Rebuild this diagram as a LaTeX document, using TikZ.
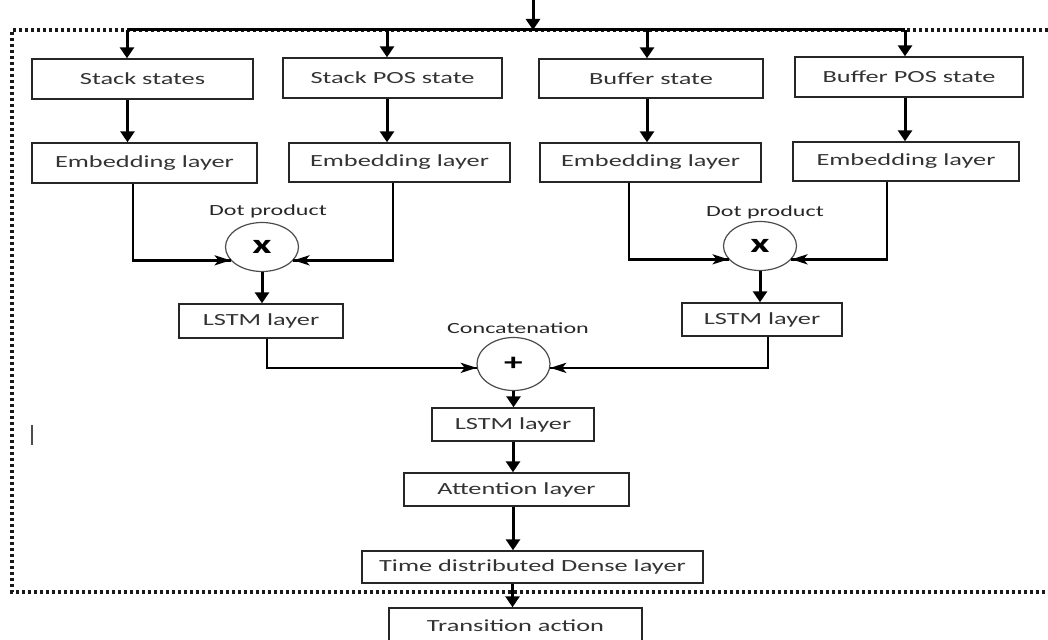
\documentclass[tikz,border=0pt]{standalone}
\usepackage{fontspec}
\setmainfont{Carlito}[FakeStretch=1.55]
\usetikzlibrary{arrows.meta,shapes.geometric}
\begin{document}
\begin{tikzpicture}[x=1pt,y=-1pt,
  box/.style={draw=black!85,line width=1.4pt,rectangle,inner sep=0pt,font=\fontsize{17}{20}\selectfont,text=black!80},
  op/.style={draw=black!70,line width=1.2pt,ellipse,inner sep=0pt,minimum width=73pt,minimum height=49pt,font=\fontsize{27}{28}\selectfont\bfseries},
  lbl/.style={font=\fontsize{15.5}{18}\selectfont,text=black!85,inner sep=0pt},
  varr/.style={line width=3pt,-{Triangle[width=14pt,length=11pt]}},
  harr/.style={line width=2.6pt,-{Stealth[width=10pt,length=16pt,inset=4pt]}},
  frame/.style={line width=3.2pt,dash pattern=on 3pt off 3pt,black!90}]
\useasboundingbox (0,0) rectangle (1048,639);
% dotted frame
\draw[frame] (1048,30) -- (12,30) -- (12,592) -- (1048,592);
% cursor mark
\draw[black!70,line width=1.8pt] (32,425) -- (32,445);
% nodes
\node[box,minimum width=221pt,minimum height=40pt] (s1) at (142.5,79) {Stack states};
\node[box,minimum width=219pt,minimum height=40pt] (s2) at (392.5,78) {Stack POS state};
\node[box,minimum width=224pt,minimum height=39pt] (s3) at (651,78.5) {Buffer state};
\node[box,minimum width=228pt,minimum height=40pt] (s4) at (909,77) {Buffer POS state};
\node[box,minimum width=225pt,minimum height=40pt] (e1) at (144.5,163) {Embedding layer};
\node[box,minimum width=221pt,minimum height=39pt] (e2) at (399.5,162.5) {Embedding layer};
\node[box,minimum width=221pt,minimum height=39pt] (e3) at (650.5,162.5) {Embedding layer};
\node[box,minimum width=226pt,minimum height=39pt] (e4) at (906,161.5) {Embedding layer};
\node[op] (d1) at (262,247) {x};
\node[op] (d2) at (760,246) {x};
\node[lbl] (d1l) at (268,211) {Dot product};
\node[lbl] (d2l) at (765,212) {Dot product};
\node[box,minimum width=164pt,minimum height=34pt] (l1) at (261,321) {LSTM layer};
\node[box,minimum width=160pt,minimum height=33pt] (l2) at (762,319.5) {LSTM layer};
\node[op,minimum height=53pt,font=\fontsize{24}{26}\selectfont\bfseries] (cc) at (513.5,364) {+};
\node[lbl] (ccl) at (518,328) {Concatenation};
\node[box,minimum width=162pt,minimum height=33pt] (l3) at (513,424.5) {LSTM layer};
\node[box,minimum width=225pt,minimum height=33pt] (att) at (516.5,489.5) {Attention layer};
\node[box,minimum width=341pt,minimum height=32pt] (tdd) at (532.5,567) {Time distributed Dense layer};
\node[box,minimum width=253pt,minimum height=36pt] (ta) at (515.5,626) {Transition action};
% input and bus
\coordinate (in) at (533,0);
\coordinate (bl) at (127,30);
\coordinate (br) at (905,30);
\draw[varr] (in) -- (in |- bl);
\draw[line width=3pt] (bl) -- (br);
\draw[varr] ([xshift=-15.5pt]s1.north |- bl) -- ([xshift=-15.5pt]s1.north);
\draw[varr] ([xshift=-5.5pt]s2.north |- bl) -- ([xshift=-5.5pt]s2.north);
\draw[varr] ([xshift=-4pt]s3.north |- bl) -- ([xshift=-4pt]s3.north);
\draw[varr] ([xshift=-4pt]s4.north |- bl) -- ([xshift=-4pt]s4.north);
% states to embeddings
\draw[varr] ([xshift=-15pt]s1.south) -- ([xshift=-15pt]s1.south |- e1.north);
\draw[varr] ([xshift=-5.5pt]s2.south) -- ([xshift=-5.5pt]s2.south |- e2.north);
\draw[varr] ([xshift=-4pt]s3.south) -- ([xshift=-4pt]s3.south |- e3.north);
\draw[varr] ([xshift=-4pt]s4.south) -- ([xshift=-4pt]s4.south |- e4.north);
% embeddings to dot products
\draw[line width=2.6pt] ([xshift=-11.5pt]e1.south) |- (d1.203);
\draw[harr] ([xshift=-11.5pt]e1.south |- d1.203) -- (d1.203);
\draw[line width=2.6pt] ([xshift=-6.5pt]e2.south) |- (d1.-23);
\draw[harr] ([xshift=-6.5pt]e2.south |- d1.-23) -- (d1.-23);
\draw[line width=2.6pt] ([xshift=-21.5pt]e3.south) |- (d2.203);
\draw[harr] ([xshift=-21.5pt]e3.south |- d2.203) -- (d2.203);
\draw[line width=2.6pt] ([xshift=-19pt]e4.south) |- (d2.-23);
\draw[harr] ([xshift=-19pt]e4.south |- d2.-23) -- (d2.-23);
% dot products to LSTMs
\draw[varr] (d1.south) -- (d1.south |- l1.north);
\draw[varr] (d2.south) -- (d2.south |- l2.north);
% LSTMs to concatenation
\draw[line width=2.4pt] ([xshift=6pt]l1.south) |- (cc.186);
\draw[harr] ([xshift=6pt]l1.south |- cc.186) -- (cc.186);
\draw[line width=2.4pt] ([xshift=6pt]l2.south) |- (cc.-6);
\draw[harr] ([xshift=6pt]l2.south |- cc.-6) -- (cc.-6);
% vertical chain
\draw[varr] (cc.south) -- (cc.south |- l3.north);
\draw[varr] (l3.south) -- (l3.south |- att.north);
\draw[varr] ([xshift=-3.5pt]att.south) -- ([xshift=-3.5pt]att.south |- tdd.north);
\draw[varr] ([xshift=-3pt]ta.north |- tdd.south) -- ([xshift=-3pt]ta.north);
\end{tikzpicture}
\end{document}
